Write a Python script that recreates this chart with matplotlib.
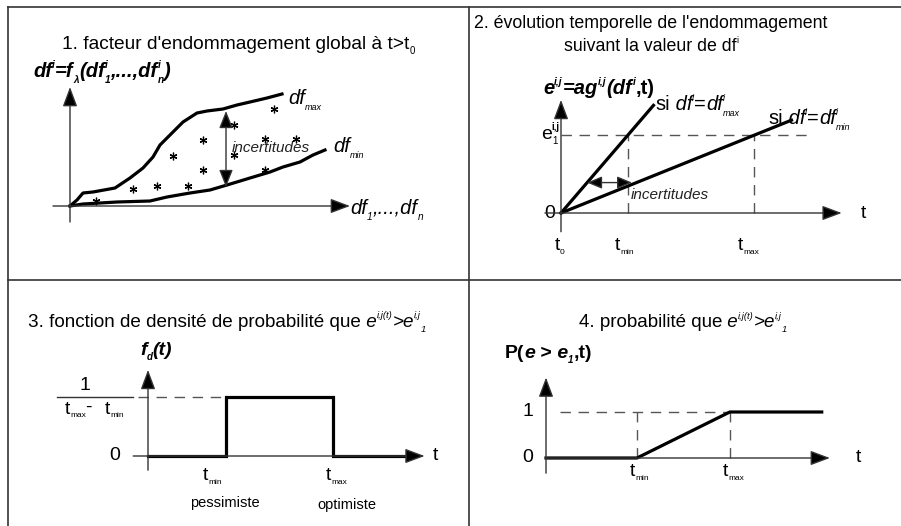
import matplotlib
matplotlib.use('Agg')
import matplotlib.pyplot as plt

plt.rcParams['font.family'] = ['Liberation Sans', 'DejaVu Sans']
plt.rcParams['lines.scale_dashes'] = False

# --- data -------------------------------------------------------------
# panel 1 : envelope curves (arbitrary units) and scattered estimations
dfmax_x = [0, 0.7, 1.3, 2.3, 4.5, 6.0, 7.3, 8.3, 9.0, 10.0, 11.3, 12.7, 13.7, 15.3, 16.7, 18.0, 19.7, 21.2]
dfmax_y = [0, 0.6, 1.3, 1.4, 1.8, 2.8, 3.8, 4.9, 6.1, 7.1, 8.4, 9.3, 9.5, 9.7, 10.1, 10.4, 10.8, 11.2]
dfmin_x = [0, 1.3, 3.0, 4.7, 8.0, 9.7, 12.0, 14.0, 15.7, 18.0, 20.0, 21.3, 23.0, 24.3, 25.5]
dfmin_y = [0, 0.2, 0.3, 0.4, 0.5, 0.9, 1.3, 1.6, 2.1, 2.8, 3.4, 3.9, 4.4, 5.1, 5.6]
pts_x = [2.6, 6.3, 8.7, 11.8, 13.3, 10.3, 13.3, 16.4, 16.4, 19.5, 22.6, 20.4, 19.5]
pts_y = [0.5, 1.7, 2.0, 2.0, 3.6, 5.0, 6.6, 8.1, 5.1, 6.7, 6.7, 9.7, 3.6]
unc1_x = 15.6
unc1_y = [1.9, 9.5]

# panel 2 : damage growth in time
t0, tmin, tmax, e1 = 0.0, 1.0, 2.88, 1.0
fast_t = [0, 1.38]
fast_e = [0, 1.38]
slow_t = [0, 3.44]
slow_e = [0, 1.19]
unc2_t = [0.39, 1.06]
unc2_e = 0.39

# panel 3 : uniform density between tmin and tmax
dens_t = [0, 1.0, 1.0, 2.38, 2.38, 3.41]
dens_f = [0, 0, 1, 1, 0, 0]

# panel 4 : probability (cumulative)
prob_t = [0, 1.0, 2.02, 3.03]
prob_p = [0, 0, 1, 1]

W, H = 901, 526
fig = plt.figure(figsize=(W / 100, H / 100), dpi=100)
bg = fig.add_axes([0, 0, 1, 1])
bg.set_xlim(0, W)
bg.set_ylim(H, 0)
bg.axis('off')
renderer = fig.canvas.get_renderer()

AX = '#333333'
DASH = '#555555'
THICK = 2.3
I = dict(style='italic')
B = dict(weight='bold')
BI = dict(weight='bold', style='italic')


def panel(box, origin, scale):
    left, top, right, bottom = box
    ox, oy = origin
    sx, sy = scale
    ax = fig.add_axes([left / W, 1 - bottom / H, (right - left) / W, (bottom - top) / H])
    ax.set_xlim((left - ox) / sx, (right - ox) / sx)
    ax.set_ylim((oy - bottom) / sy, (oy - top) / sy)
    ax.axis('off')
    return ax


def arrow(ax, p0, p1, style='-|>', hl=0.8, hw=0.3):
    ax.annotate('', xy=p1, xytext=p0,
                arrowprops=dict(arrowstyle=f'{style},head_length={hl},head_width={hw}',
                                mutation_scale=15, lw=1.0, color=AX,
                                shrinkA=0, shrinkB=0, fc='black', ec=AX))


def dashed(ax, xs, ys):
    ax.plot(xs, ys, color=DASH, lw=1.0, dashes=(7.5, 5.5))


def rich(x, y, pieces, size=13.5, ha='left', color='black', ratio=0.5):
    # pieces: (text, kind[, style]) ; kind 'n' normal, '^' sup, '_' sub, '_>' sub not stacked
    px = 100 / 72
    cur, start, last = x, x, 'n'
    arts = []
    for p in pieces:
        txt, kind = p[0], p[1]
        kw = p[2] if len(p) > 2 else {}
        if kind == 'n':
            fs, yy = size, y
        elif kind == '^':
            fs, yy = size * ratio, y - 0.45 * size * px
        else:
            fs, yy = size * ratio, y + 0.28 * size * px
        stack = kind in ('^', '_') and last in ('^', '_') and last != kind
        xx = start if stack else cur
        t = bg.text(xx, yy, txt, fontsize=fs, va='baseline', ha='left', color=color, **kw)
        w = t.get_window_extent(renderer).width
        if stack:
            cur = max(cur, xx + w)
        else:
            start = xx
            cur = xx + w
        arts.append(t)
        last = kind
    if ha == 'center':
        shift = (cur - x) / 2
        for t in arts:
            t.set_x(t.get_position()[0] - shift)


def tlab(x, y, sub, size=14):
    t = bg.text(x, y, 't', fontsize=size, ha='center', va='center')
    bg.annotate(sub, xy=(1, 0.12), xycoords=t, xytext=(0.3, 0), textcoords='offset points',
                fontsize=6, ha='left', va='center')


# --- frame ------------------------------------------------------------
bg.plot([8, 8], [7, H], color=AX, lw=1.2)
bg.plot([8, W], [7, 7], color=AX, lw=1.2)
bg.plot([469, 469], [7, H], color=AX, lw=1.2)
bg.plot([8, W], [280, 280], color=AX, lw=1.2)

# --- panel 1 ----------------------------------------------------------
ax1 = panel((8, 7, 469, 280), (70, 206), (10, 10))
arrow(ax1, (0, -1.6), (0, 11.9))
arrow(ax1, (-1.7, 0), (28.0, 0))
ax1.plot(dfmax_x, dfmax_y, color='black', lw=THICK, solid_joinstyle='round')
ax1.plot(dfmin_x, dfmin_y, color='black', lw=THICK, solid_joinstyle='round')
ax1.plot(pts_x, pts_y, ls='none', marker=(6, 2, 0), ms=5.5, mew=0.9, color='black')
arrow(ax1, (unc1_x, unc1_y[0]), (unc1_x, unc1_y[1]), style='<|-|>', hl=0.7, hw=0.28)

rich(62, 49, [("1. facteur d'endommagement global à t>t", 'n'), ('0', '_')], size=13.8)
rich(33, 77, [('df', 'n', BI), ('i', '^', BI), ('=f', 'n', BI), ('λ', '_', BI), ('(df', 'n', BI),
              ('1', '_', BI), ('i', '^', BI), (',...,df', 'n', BI), ('n', '_', BI), ('i', '^', BI),
              (')', 'n', BI)], size=14.5)
rich(288, 104, [('df', 'n', I), ('max', '_', I)], size=14.5, ratio=0.45)
rich(333, 152, [('df', 'n', I), ('min', '_', I)], size=14.5, ratio=0.45)
bg.text(232, 148, 'incertitudes', fontsize=11, style='italic', va='center', color='#222222')
rich(350, 214, [('df', 'n', I), ('1', '_', I), (',...,df', 'n', I), ('n', '_', I)], size=14.5)

# --- panel 2 ----------------------------------------------------------
ax2 = panel((469, 7, W, 280), (561, 213), (67, 78))
arrow(ax2, (-0.24, 0), (4.19, 0))
arrow(ax2, (0, -0.24), (0, 1.45))
dashed(ax2, [0, 3.75], [e1, e1])
dashed(ax2, [tmin, tmin], [0, e1])
dashed(ax2, [tmax, tmax], [0, e1])
ax2.plot(fast_t, fast_e, color='black', lw=THICK)
ax2.plot(slow_t, slow_e, color='black', lw=THICK)
arrow(ax2, (unc2_t[0], unc2_e), (unc2_t[1], unc2_e), style='<|-|>', hl=0.6, hw=0.25)

bg.text(651, 24, "2. évolution temporelle de l'endommagement", fontsize=12.8, ha='center', va='center')
rich(651, 51, [('suivant la valeur de df', 'n'), ('i', '^')], size=12.8, ha='center')
rich(543, 94, [('e', 'n', BI), ('i,j', '^', BI), ('=ag', 'n', BI), ('i,j', '^', BI), ('(df', 'n', BI),
               ('i', '^', BI), (',t)', 'n', B)], size=14.5)
rich(655, 110, [('si', 'n'), (' df', 'n', I), ('i', '^', I), ('=', 'n'), ('df', 'n', I), ('i', '^', I),
                ('max', '_', I)], size=14.5, ratio=0.45)
rich(768, 124, [('si', 'n'), (' df', 'n', I), ('i', '^', I), ('=', 'n'), ('df', 'n', I), ('i', '^', I),
                ('min', '_', I)], size=14.5, ratio=0.45)
rich(541, 139, [('e', 'n'), ('i,j', '^', B), ('1', '_')], size=14)
bg.text(550, 213, '0', fontsize=14, ha='center', va='center')
bg.text(863, 213, 't', fontsize=14, ha='center', va='center')
bg.text(631, 195, 'incertitudes', fontsize=11, style='italic', va='center', color='#222222')
tlab(557, 246, '0')
tlab(617, 246, 'min')
tlab(740, 246, 'max')

# --- panel 3 ----------------------------------------------------------
ax3 = panel((8, 280, 469, H), (148, 456), (77.7, 59))
arrow(ax3, (-0.19, 0), (3.56, 0))
arrow(ax3, (0, -0.24), (0, 1.46))
dashed(ax3, [-0.13, 1.0], [1, 1])
ax3.plot(dens_t, dens_f, color='black', lw=THICK, solid_joinstyle='miter')

rich(28, 327, [('3. fonction de densité de probabilité que', 'n'), (' e', 'n', I), ('i,j(t)', '^', I),
               ('>e', 'n', I), ('i,j', '^', I), ('1', '_>', I)], size=13.6)
rich(140, 355, [('f', 'n', BI), ('d', '_', BI), ('(t)', 'n', BI)], size=14)
bg.text(85, 386, '1', fontsize=14, ha='center', va='center')
bg.plot([57, 133], [397, 397], color=AX, lw=1.0)
tlab(67, 409, 'max')
bg.text(88, 407, '-', fontsize=14, ha='center', va='center')
tlab(107, 409, 'min')
bg.text(115, 456, '0', fontsize=14, ha='center', va='center')
bg.text(435, 456, 't', fontsize=14, ha='center', va='center')
tlab(205, 476, 'min')
tlab(328, 476, 'max')
bg.text(225, 503, 'pessimiste', fontsize=10.5, ha='center', va='center')
bg.text(347, 505, 'optimiste', fontsize=10.5, ha='center', va='center')

# --- panel 4 ----------------------------------------------------------
ax4 = panel((469, 280, W, H), (546, 458), (91, 46))
arrow(ax4, (0, 0), (3.12, 0))
arrow(ax4, (0, -0.33), (0, 1.75))
dashed(ax4, [0.15, 2.02], [1, 1])
dashed(ax4, [1.0, 1.0], [0, 1])
dashed(ax4, [2.02, 2.02], [0, 1])
ax4.plot(prob_t, prob_p, color='black', lw=THICK)

rich(683, 327, [('4. probabilité que', 'n'), (' e', 'n', I), ('i,j(t)', '^', I), ('>e', 'n', I),
                ('i,j', '^', I), ('1', '_>', I)], size=13.5, ha='center')
rich(505, 358, [('P(', 'n', B), ('e', 'n', BI), (' >', 'n', B), (' e', 'n', BI), ('1', '_', BI),
                (',t)', 'n', B)], size=14)
bg.text(528, 412, '1', fontsize=14, ha='center', va='center')
bg.text(528, 458, '0', fontsize=14, ha='center', va='center')
bg.text(858, 458, 't', fontsize=14, ha='center', va='center')
tlab(632, 472, 'min')
tlab(725, 472, 'max')

fig.savefig('out.png', dpi=100)
